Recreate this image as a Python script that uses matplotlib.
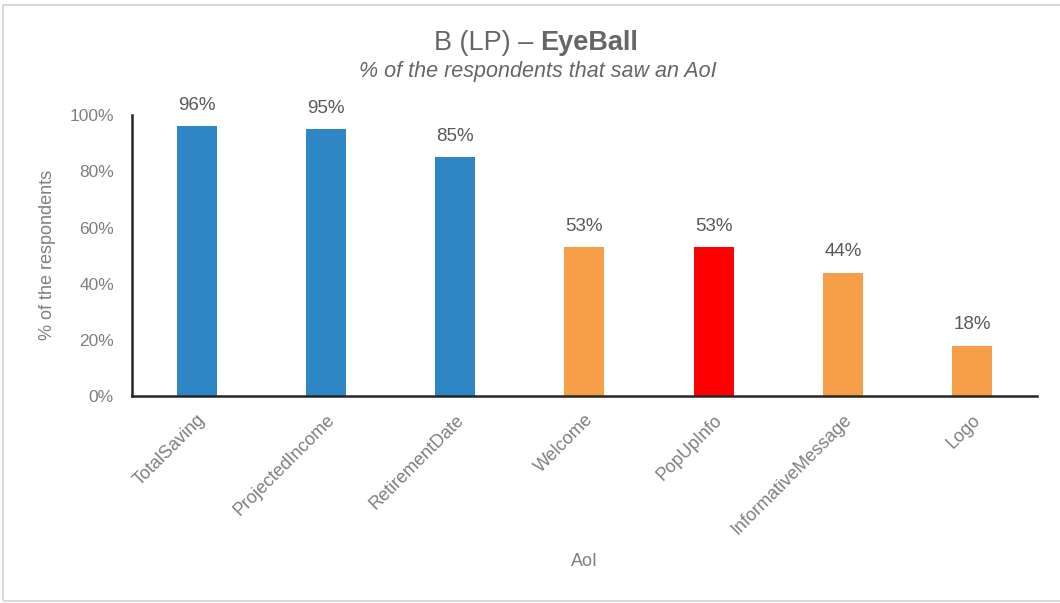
import matplotlib
matplotlib.use("Agg")
import matplotlib.pyplot as plt
from matplotlib.patches import Rectangle
from matplotlib.ticker import PercentFormatter

# share of respondents that looked at each area of interest
aois = ['TotalSaving', 'ProjectedIncome', 'RetirementDate', 'Welcome',
        'PopUpInfo', 'InformativeMessage', 'Logo']
seen_pct = [96, 95, 85, 53, 53, 44, 18]
bar_colors = ['#2E86C4', '#2E86C4', '#2E86C4', '#F79F48',
              '#FF0000', '#F79F48', '#F79F48']

plt.rcParams['font.family'] = ['Liberation Sans', 'DejaVu Sans']

fig = plt.figure(figsize=(10.6, 6.03), dpi=100)
ax = fig.add_axes([0.1245, 0.343, 0.8535, 0.466])

x = range(len(aois))
heights = [v / 100 for v in seen_pct]
ax.bar(x, heights, width=0.31, color=bar_colors, zorder=2)

for xi, h, v in zip(x, heights, seen_pct):
    ax.annotate(f'{v}%', (xi, h), xytext=(0, 15), textcoords='offset points',
                ha='center', va='center', fontsize=13.5, color='#595959')

ax.set_xlim(-0.5, 6.5)
ax.set_ylim(0, 1.0)
ax.set_yticks([0, 0.2, 0.4, 0.6, 0.8, 1.0])
ax.yaxis.set_major_formatter(PercentFormatter(1.0, decimals=0))
ax.set_xticks(list(x))
ax.set_xticklabels(aois, rotation=45, ha='right', va='top',
                   rotation_mode='anchor')
ax.tick_params(axis='both', length=0, colors='#7F7F7F')
ax.tick_params(axis='y', pad=13, labelsize=12.5)
ax.tick_params(axis='x', pad=11, labelsize=13)

for side in ['top', 'right']:
    ax.spines[side].set_visible(False)
for side in ['left', 'bottom']:
    ax.spines[side].set_color('#262626')
    ax.spines[side].set_linewidth(1.8)

fig.text(48 / 1060, 1 - 255 / 603, '% of the respondents', rotation=90,
         ha='center', va='center', fontsize=13, color='#7F7F7F')
fig.text(584 / 1060, 1 - 561 / 603, 'AoI', ha='center', va='center',
         fontsize=13, color='#7F7F7F')

# title: plain prefix + bold name, laid out side by side
title_y = 1 - 43 / 603
t1 = fig.text(0, title_y, 'B (LP) \u2013 ', fontsize=19.5, color='#666666',
              va='center')
t2 = fig.text(0, title_y, 'EyeBall', fontsize=19.5, color='#666666',
              va='center', fontweight='bold')
r = fig.canvas.get_renderer()
w1 = t1.get_window_extent(r).width / fig.bbox.width
w2 = t2.get_window_extent(r).width / fig.bbox.width
x0 = 536 / 1060 - (w1 + w2) / 2
t1.set_x(x0)
t2.set_x(x0 + w1)

fig.text(538 / 1060, 1 - 72 / 603, '% of the respondents that saw an AoI',
         ha='center', va='center', fontsize=15.5, style='italic',
         color='#666666')

fig.patches.append(Rectangle((3 / 1060, 2 / 603), 1.2, 596 / 603,
                             transform=fig.transFigure, fill=False,
                             edgecolor='#D9D9D9', linewidth=1.5))

fig.savefig('out.png', dpi=100)
